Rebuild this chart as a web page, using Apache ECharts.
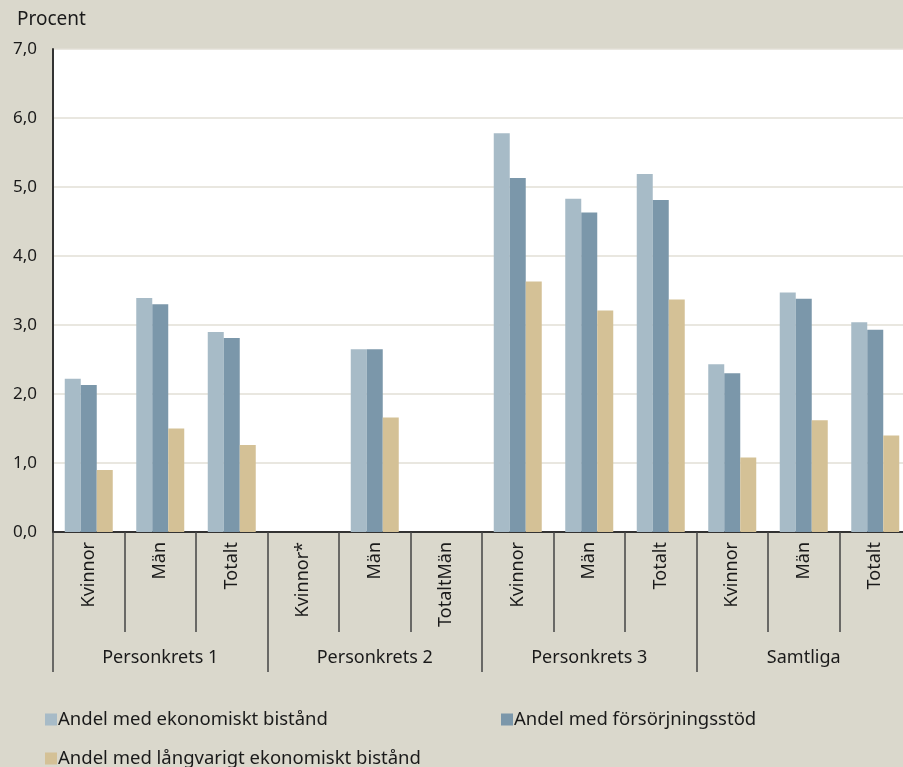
<!DOCTYPE html>
<html>
<head>
<meta charset="utf-8">
<script src="https://cdn.jsdelivr.net/npm/echarts@6/dist/echarts.min.js"></script>
<style>
    html, body { margin: 0; padding: 0; background: #dad8cc; }
    #chart { width: 903px; height: 767px; }
</style>
</head>
<body>
<div id="chart"></div>
<script>
(function () {
    'use strict';

    var subCategories = ['Kvinnor', 'Män', 'Totalt', 'Kvinnor*', 'Män', 'TotaltMän',
        'Kvinnor', 'Män', 'Totalt', 'Kvinnor', 'Män', 'Totalt'];
    var groups = ['Personkrets 1', 'Personkrets 2', 'Personkrets 3', 'Samtliga'];
    var seriesNames = ['Andel med ekonomiskt bistånd', 'Andel med försörjningsstöd',
        'Andel med långvarigt ekonomiskt bistånd'];

    // null = inget värde
    var ekonomisktBistand = [2.22, 3.39, 2.90, null, 2.65, null, 5.78, 4.83, 5.19, 2.43, 3.47, 3.04];
    var forsorjningsstod = [2.13, 3.30, 2.81, null, 2.65, null, 5.13, 4.63, 4.81, 2.30, 3.38, 2.93];
    var langvarigt = [0.90, 1.50, 1.26, null, 1.66, null, 3.63, 3.21, 3.37, 1.08, 1.62, 1.40];

    var colors = ['#a7bbc7', '#7b97aa', '#d4c196'];
    var font = 'Noto Sans';

    var myChart = echarts.init(document.getElementById('chart'));

    function legendAt(name, left, top) {
        return {
            data: [name],
            left: left,
            top: top,
            icon: 'rect',
            itemWidth: 12,
            itemHeight: 12,
            itemGap: 5,
            textStyle: { fontFamily: font, fontSize: 18.5, color: '#1a1a1a', padding: [0, 0, 0, -4] }
        };
    }

    function bar(name, data, color) {
        return {
            name: name,
            type: 'bar',
            data: data,
            barWidth: 16,
            barGap: '0%',
            itemStyle: { color: color },
            emphasis: { disabled: true }
        };
    }

    myChart.setOption({
        backgroundColor: '#dad8cc',
        animation: false,
        color: colors,
        title: {
            text: 'Procent',
            left: 12,
            top: 5,
            textStyle: { fontFamily: font, fontSize: 19, fontWeight: 'normal', color: '#1a1a1a' }
        },
        legend: [
            legendAt(seriesNames[0], 40, 705),
            legendAt(seriesNames[1], 496, 705),
            legendAt(seriesNames[2], 40, 744)
        ],
        grid: {
            left: 53,
            right: -8,   // plotytan fortsätter en bit utanför bilden
            top: 49,
            bottom: 235,
            outerBoundsMode: 'none',
            containLabel: false,
            show: true,
            backgroundColor: '#ffffff',
            borderWidth: 0
        },
        xAxis: [
            {
                type: 'category',
                data: subCategories,
                position: 'bottom',
                axisLine: { show: true, lineStyle: { color: '#333', width: 2 } },
                axisTick: { show: true, length: 100, lineStyle: { color: '#444', width: 1.5 } },
                axisLabel: {
                    rotate: 90,
                    margin: 10,
                    interval: 0,
                    fontFamily: font,
                    fontSize: 18,
                    color: '#1a1a1a'
                }
            },
            {
                type: 'category',
                data: groups,
                position: 'bottom',
                axisLine: { show: false },
                axisTick: { show: true, length: 140, lineStyle: { color: '#444', width: 1.5 } },
                axisLabel: {
                    margin: 117,
                    interval: 0,
                    fontFamily: font,
                    fontSize: 18,
                    color: '#1a1a1a'
                }
            }
        ],
        yAxis: {
            type: 'value',
            min: 0,
            max: 7,
            interval: 1,
            axisLine: { show: true, lineStyle: { color: '#333', width: 2 } },
            axisTick: { show: false },
            splitLine: { lineStyle: { color: '#e2dfd6', width: 1.5 } },
            axisLabel: {
                margin: 16,
                fontFamily: font,
                fontSize: 17,
                color: '#1a1a1a',
                formatter: function (v) {
                    return v.toFixed(1).replace('.', ',');
                }
            }
        },
        series: [
            bar(seriesNames[0], ekonomisktBistand, colors[0]),
            bar(seriesNames[1], forsorjningsstod, colors[1]),
            bar(seriesNames[2], langvarigt, colors[2])
        ]
    });
})();
</script>
</body>
</html>
